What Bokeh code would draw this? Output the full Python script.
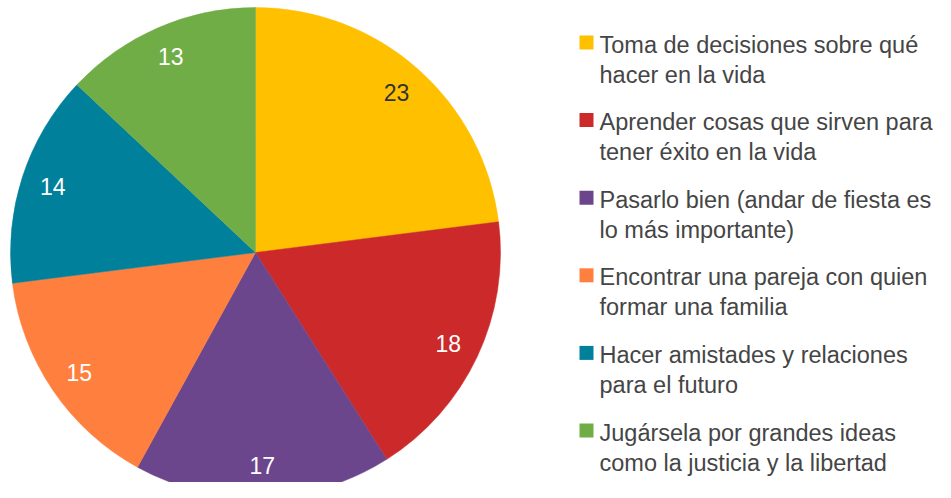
import math
from bokeh.plotting import figure
from bokeh.models import ColumnDataSource, Range1d
from bokeh.core.properties import value
from bokeh.embed import file_html
from bokeh.resources import INLINE

categories = [
    "Toma de decisiones sobre qué\nhacer en la vida",
    "Aprender cosas que sirven para\ntener éxito en la vida",
    "Pasarlo bien (andar de fiesta es\nlo más importante)",
    "Encontrar una pareja con quien\nformar una familia",
    "Hacer amistades y relaciones\npara el futuro",
    "Jugársela por grandes ideas\ncomo la justicia y la libertad",
]
values = [23, 18, 17, 15, 14, 13]
colors = ["#FFC000", "#CC2A2A", "#6C468C", "#FF7F3F", "#00809A", "#70AD47"]
label_colors = ["#333333", "white", "white", "white", "white", "white"]

W, H = 935, 482
p = figure(width=W, height=H, output_backend="svg", toolbar_location=None,
           x_range=Range1d(0, W), y_range=Range1d(0, H), min_border=0)
p.axis.visible = False
p.grid.visible = False
p.outline_line_color = None
p.background_fill_color = "white"

def sx(x):
    return x
def sy(y):
    return H - y

cx, cy, R = sx(255), sy(252), 245
total = sum(values)
starts, ends, lx, ly = [], [], [], []
cum = 0
for v in values:
    a0 = math.pi / 2 - 2 * math.pi * cum / total
    cum += v
    a1 = math.pi / 2 - 2 * math.pi * cum / total
    starts.append(a0)
    ends.append(a1)
    mid = (a0 + a1) / 2
    lx.append(cx + 0.87 * R * math.cos(mid))
    ly.append(cy + 0.87 * R * math.sin(mid))

src = ColumnDataSource(dict(start=starts, end=ends, color=colors, lc=label_colors,
                            lx=lx, ly=ly, txt=[str(v) for v in values]))
p.wedge(x=cx, y=cy, radius=R, start_angle="start", end_angle="end",
        direction="clock", fill_color="color", line_color="color", line_width=0.5,
        source=src)
p.text(x="lx", y="ly", text="txt", source=src, text_color="lc",
       text_font=value("Liberation Sans"), text_font_size="23px", text_align="center",
       text_baseline="middle")

# legend
step = 77.6
sqx, sqy, tx, ty = [], [], [], []
tt = []
for i, c in enumerate(categories):
    sqx.append(sx(586))
    sqy.append(sy(42 + step * i))
    lines = c.split("\n")
    for j, ln in enumerate(lines):
        tx.append(sx(599))
        ty.append(sy(44 + step * i + 30 * j))
        tt.append(ln)
p.rect(x=sqx, y=sqy, width=14, height=14, fill_color=colors, line_color=None)
p.text(x=tx, y=ty, text=tt, text_color="#454545", text_font=value("Liberation Sans"),
       text_font_size="23.5px", text_align="left", text_baseline="middle")

open("out.html", "w").write(file_html(p, INLINE))
